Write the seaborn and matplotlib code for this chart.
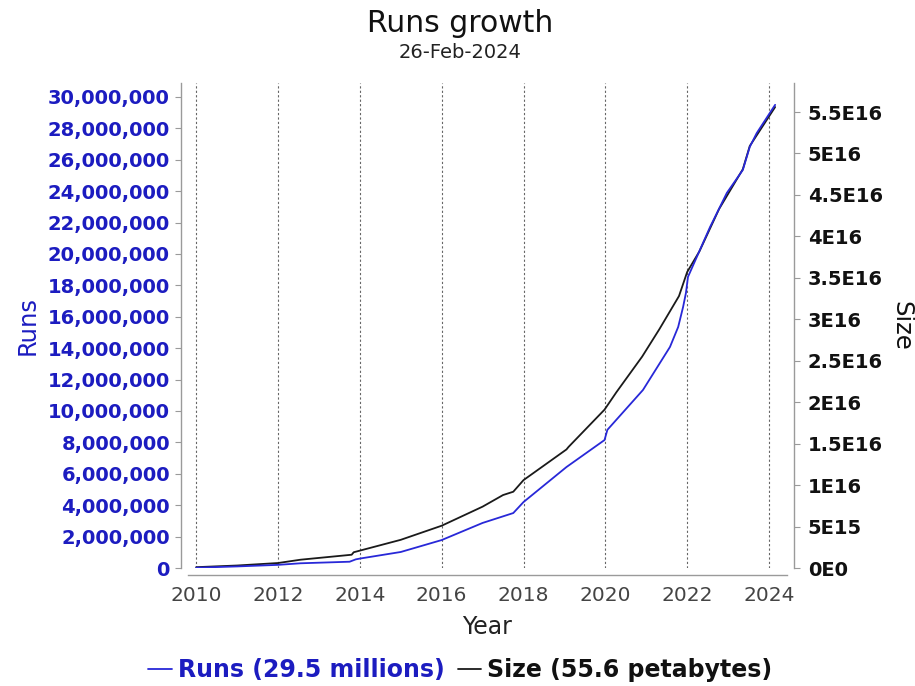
import numpy as np
import pandas as pd
import matplotlib
matplotlib.use('Agg')
import matplotlib.pyplot as plt
import seaborn as sns
from matplotlib.ticker import FuncFormatter

# данные
runs_years = [2010.0, 2011.0, 2012.0, 2012.55, 2013.75, 2013.9, 2014.0, 2015.0,
              2016.0, 2017.0, 2017.75, 2018.0, 2019.05, 2019.98, 2020.05, 2020.92,
              2021.58, 2021.78, 2021.9, 2021.97, 2022.02, 2022.31, 2022.56, 2022.97,
              2023.36, 2023.53, 2023.7, 2024.15]
runs_millions = [0.02, 0.1, 0.2, 0.3, 0.4, 0.55, 0.6, 1.02,
                 1.78, 2.87, 3.5, 4.2, 6.43, 8.15, 8.8, 11.34,
                 14.08, 15.35, 16.62, 17.52, 18.54, 20.25, 21.72, 23.89,
                 25.35, 26.82, 27.7, 29.5]

size_years = [2010.0, 2011.0, 2012.0, 2012.55, 2013.8, 2013.85, 2015.0, 2016.0,
              2017.0, 2017.5, 2017.75, 2018.0, 2019.05, 2019.1, 2019.98, 2020.27,
              2020.9, 2021.32, 2021.8, 2022.0, 2022.3, 2022.78, 2023.36, 2023.53,
              2024.15]
size_e16 = [0.01, 0.03, 0.06, 0.1, 0.16, 0.19, 0.34, 0.51,
            0.74, 0.88, 0.92, 1.06, 1.43, 1.46, 1.91, 2.12,
            2.55, 2.88, 3.28, 3.57, 3.82, 4.33, 4.81, 5.09,
            5.56]

year_ticks = [2010, 2012, 2014, 2016, 2018, 2020, 2022, 2024]

runs_df = pd.DataFrame({'Year': runs_years, 'Runs': np.array(runs_millions) * 1e6})
size_df = pd.DataFrame({'Year': size_years, 'Size': np.array(size_e16) * 1e16})

sns.set_style('white')
plt.rcParams['font.family'] = ['DejaVu Sans']

BLUE = '#2828d8'
TICKBLUE = '#1c1cc0'
GRAY = '#9a9a9a'

fig = plt.figure(figsize=(9.15, 6.86), dpi=100)
ax = fig.add_axes([188 / 915, 1 - 568 / 686, (787 - 188) / 915, (568 - 83) / 686])
ax2 = ax.twinx()

sns.lineplot(data=runs_df, x='Year', y='Runs', ax=ax, color=BLUE, linewidth=1.3,
             label='Runs (29.5 millions)', legend=False)
sns.lineplot(data=size_df, x='Year', y='Size', ax=ax2, color='#1a1a1a', linewidth=1.3,
             label='Size (55.6 petabytes)', legend=False)
ax2.set_zorder(ax.get_zorder() - 1)
ax.patch.set_visible(False)

ax.set_xlim(2009.80, 2024.44)
ax.set_ylim(0, 30.89e6)
ax2.set_ylim(0, 5.85e16)

ax.set_xticks(year_ticks)
for yr in year_ticks:
    ax2.axvline(yr, color='#666666', linestyle=(0, (2, 2)), linewidth=0.8, zorder=0)

ax.set_yticks([i * 2e6 for i in range(16)])
ax.yaxis.set_major_formatter(FuncFormatter(lambda v, p: f'{int(round(v)):,}'))


def sci_label(v, pos):
    if v == 0:
        return '0E0'
    exp = int(np.floor(np.log10(v) + 1e-9))
    mant = round(v / 10 ** exp, 3)
    return f'{mant:g}E{exp}'


ax2.set_yticks([i * 5e15 for i in range(12)])
ax2.yaxis.set_major_formatter(FuncFormatter(sci_label))

for a in (ax, ax2):
    a.spines['top'].set_visible(False)
    for side in ('left', 'right', 'bottom'):
        a.spines[side].set_color(GRAY)
        a.spines[side].set_linewidth(1.0)
        a.spines[side].set_position(('outward', 5))
ax.spines['right'].set_visible(False)
ax2.spines['left'].set_visible(False)
ax2.spines['bottom'].set_visible(False)

ax.tick_params(axis='y', colors=GRAY, length=4, width=0.8, pad=4)
ax.tick_params(axis='x', colors=GRAY, length=4, width=0.8, pad=4)
ax2.tick_params(axis='y', colors=GRAY, length=4, width=0.8, pad=6)
for t in ax.get_yticklabels():
    t.set_color(TICKBLUE)
    t.set_fontweight('bold')
    t.set_fontsize(14)
for t in ax.get_xticklabels():
    t.set_color('#444444')
    t.set_fontsize(14.5)
for t in ax2.get_yticklabels():
    t.set_color('#111111')
    t.set_fontweight('bold')
    t.set_fontsize(14)

ax.set_xlabel('Year', fontsize=17, color='#222222', labelpad=7)
ax.set_ylabel('Runs', fontsize=17.5, color=TICKBLUE, labelpad=6)
ax2.set_ylabel('Size', fontsize=17.5, color='#111111', fontweight='medium',
               rotation=-90, labelpad=22)

fig.text(0.503, 0.966, 'Runs growth', ha='center', va='center', fontsize=21.5,
         color='#111111', fontweight='medium')
fig.text(0.503, 0.923, '26-Feb-2024', ha='center', va='center', fontsize=14, color='#222222')

handles = ax.get_lines()[:1] + ax2.get_lines()[:1]
leg = fig.legend(handles, ['Runs (29.5 millions)', 'Size (55.6 petabytes)'],
                 loc='center', bbox_to_anchor=(0.503, 0.023), ncol=2, frameon=False,
                 handlelength=1.0, handletextpad=0.25, columnspacing=0.55,
                 prop={'size': 17, 'weight': 'bold'})
leg.get_texts()[0].set_color(TICKBLUE)
leg.get_texts()[1].set_color('#111111')

fig.savefig('out.png', dpi=100)
